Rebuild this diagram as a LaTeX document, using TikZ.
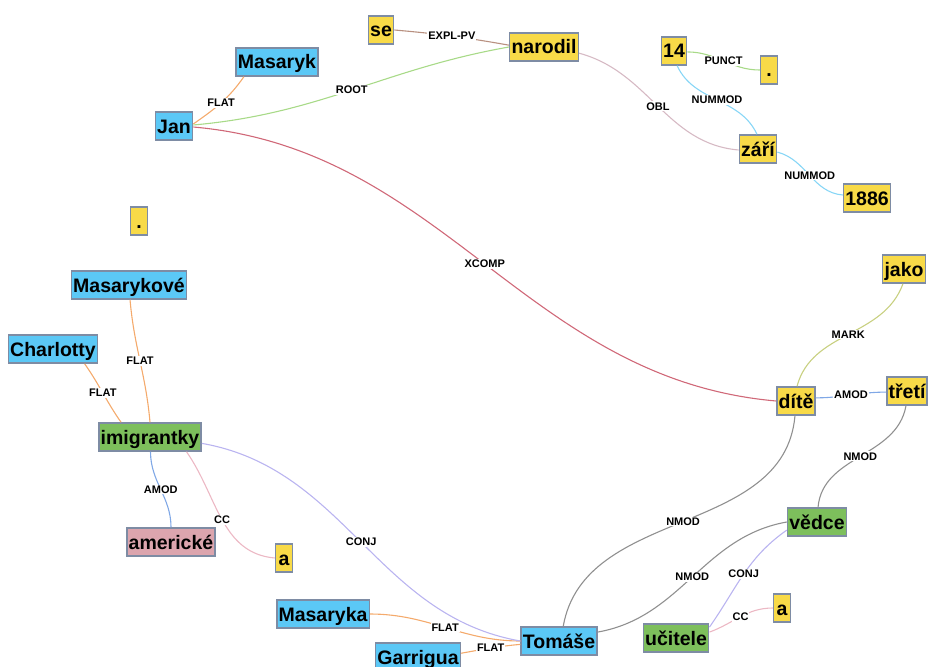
\documentclass[tikz,border=0pt]{standalone}
\usepackage{fontspec}
\setmainfont{Liberation Sans}
\definecolor{wblue}{RGB}{91,200,246}
\definecolor{wyellow}{RGB}{248,218,72}
\definecolor{wgreen}{RGB}{125,191,92}
\definecolor{wpink}{RGB}{220,165,174}
\definecolor{nodeedge}{RGB}{126,140,164}
\definecolor{eflat}{RGB}{244,170,108}
\definecolor{eroot}{RGB}{168,218,136}
\definecolor{eexpl}{RGB}{184,144,128}
\definecolor{eobl}{RGB}{214,186,196}
\definecolor{enum}{RGB}{136,214,246}
\definecolor{excomp}{RGB}{208,104,120}
\definecolor{emark}{RGB}{200,208,128}
\definecolor{eamod}{RGB}{128,168,230}
\definecolor{enmod}{RGB}{144,144,144}
\definecolor{econj}{RGB}{186,180,240}
\definecolor{ecc}{RGB}{236,184,196}
\begin{document}
\begin{tikzpicture}[x=1pt,y=1pt,
  word/.style={draw=nodeedge, line width=1.5pt,
    font=\fontsize{19.5}{20}\selectfont\bfseries,
    text height=14pt, text depth=0pt,
    inner xsep=1.8pt, inner ysep=7pt, minimum height=28pt, minimum width=17pt},
  wb/.style={word, fill=wblue},
  wy/.style={word, fill=wyellow},
  wg/.style={word, fill=wgreen},
  wp/.style={word, fill=wpink},
  rel/.style={line width=1.1pt},
  cflat/.style={rel, draw=eflat},
  croot/.style={rel, draw=eroot},
  cexpl/.style={rel, draw=eexpl},
  cobl/.style={rel, draw=eobl},
  cnum/.style={rel, draw=enum},
  cxcomp/.style={rel, draw=excomp},
  cmark/.style={rel, draw=emark},
  camod/.style={rel, draw=eamod},
  cnmod/.style={rel, draw=enmod},
  cconj/.style={rel, draw=econj},
  ccc/.style={rel, draw=ecc},
  lab/.style={font=\fontsize{11}{12}\selectfont\bfseries, fill=white, inner sep=1pt},
]
\useasboundingbox (0,0) rectangle (928,-666);

% words
\node[wy] (se) at (381,-30) {se};
\node[wy] (narodil) at (544,-47) {narodil};
\node[wb] (Masaryk) at (277,-62) {Masaryk};
\node[wb] (Jan) at (174,-126) {Jan};
\node[wy] (n14) at (674,-51) {14};
\node[wy] (dotA) at (769,-70) {.};
\node[wy] (zari) at (758,-149) {září};
\node[wy] (y1886) at (867,-198) {1886};
\node[wy] (dotB) at (139,-221) {.};
\node[wb] (Masarykove) at (129,-285) {Masarykové};
\node[wb] (Charlotty) at (53,-349) {Charlotty};
\node[wg] (imig) at (150,-437) {imigrantky};
\node[wp] (americke) at (171,-542) {americké};
\node[wy] (aL) at (284,-558) {a};
\node[wy] (jako) at (904,-269) {jako};
\node[wy] (dite) at (796,-401) {dítě};
\node[wy] (treti) at (907,-391) {třetí};
\node[wg] (vedce) at (817,-522) {vědce};
\node[wy] (aR) at (782,-608) {a};
\node[wg] (ucitele) at (676,-638) {učitele};
\node[wb] (Masaryka) at (323,-614) {Masaryka};
\node[wb] (Tomase) at (559,-641) {Tomáše};
\node[wb] (Garrigua) at (418,-657) {Garrigua};

% dependency relations
\draw[cflat] (Jan.6) to[out=35,in=235] node[lab]{FLAT} (Masaryk.204);
\draw[croot] (Jan.3) to[out=5,in=190] node[lab]{ROOT} (narodil.180);
\draw[cexpl] (se.0) to[out=-5,in=170] node[lab]{EXPL-PV} (narodil.177);
\draw[cobl] (narodil.-10) to[out=-15,in=175] node[lab]{OBL} (zari.183);
\draw[croot] (n14.-4) to[out=0,in=180] node[lab]{PUNCT} (dotA.180);
\draw[cnum] (n14.-78) to[out=-65,in=115] node[lab]{NUMMOD} (zari.94);
\draw[cnum] (zari.-9) to[out=-15,in=175] node[lab]{NUMMOD} (y1886.173);
\draw[cxcomp] (Jan.-3) to[out=-5,in=175] node[lab]{XCOMP} (dite.180);
\draw[cmark] (jako.-94) to[out=250,in=75] node[lab]{MARK} (dite.86);
\draw[camod] (dite.9) to[out=0,in=180] node[lab]{AMOD} (treti.183);
\draw[cnmod] (dite.-94) to[out=265,in=80] node[lab]{NMOD} (Tomase.74);
\draw[cnmod] (treti.-94) to[out=260,in=85] node[lab]{NMOD} (vedce.86);
\draw[cnmod] (vedce.180) to[out=190,in=10] node[lab]{NMOD} (Tomase.13);
\draw[cconj] (vedce.195) to[out=215,in=55] node[lab]{CONJ} (ucitele.18);
\draw[ccc] (ucitele.10) to[out=20,in=180] node[lab]{CC} (aR.180);
\draw[cflat] (Masaryka.0) to[out=0,in=180] node[lab]{FLAT} (Tomase.180);
\draw[cflat] (Garrigua.5) to[out=10,in=185] node[lab]{FLAT} (Tomase.185);
\draw[cconj] (imig.-7) to[out=-10,in=170] node[lab]{CONJ} (Tomase.180);
\draw[cflat] (Masarykove.-86) to[out=-85,in=95] node[lab]{FLAT} (imig.90);
\draw[cflat] (Charlotty.-25) to[out=-55,in=125] node[lab]{FLAT} (imig.153);
\draw[camod] (imig.-88) to[out=-90,in=90] node[lab]{AMOD} (americke.90);
\draw[ccc] (imig.-22) to[out=-55,in=175] node[lab]{CC} (aL.180);
\end{tikzpicture}
\end{document}
